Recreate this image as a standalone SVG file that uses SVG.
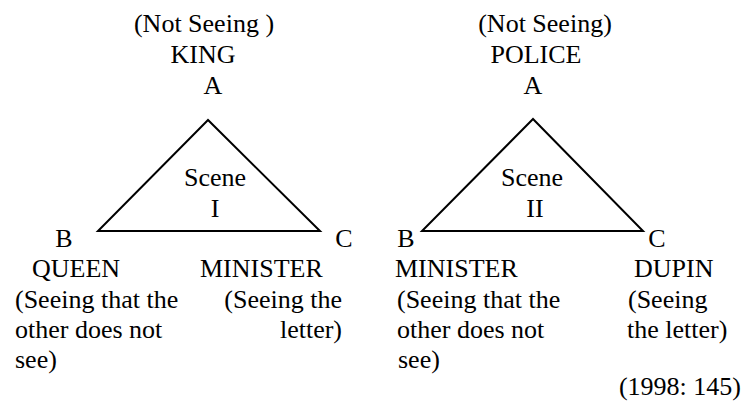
<svg xmlns="http://www.w3.org/2000/svg" width="741" height="405" viewBox="0 0 741 405">
<style>
text{font-family:'Liberation Serif',Tinos,'Times New Roman','DejaVu Serif',serif;font-size:26px;fill:#000}
.m{text-anchor:middle}
.e{text-anchor:end}
.tri{fill:none;stroke:#000;stroke-width:2;stroke-linejoin:miter}
</style>
<rect width="741" height="405" fill="#fff"/>
<g id="connectors">
<polygon class="tri" points="208,120 98,231 320,231"/>
<polygon class="tri" points="533,119 422,231 643,231"/>
</g>
<g id="scene1-A">
<text class="m" x="204" y="32">(Not Seeing )</text>
<text class="m" x="203" y="63">KING</text>
<text class="m" x="213" y="94">A</text>
</g>
<g id="scene1-label">
<text class="m" x="215" y="186">Scene</text>
<text class="m" x="215" y="217">I</text>
</g>
<g id="scene1-B">
<text class="m" x="64" y="247">B</text>
<text x="32" y="277">QUEEN</text>
<text x="15" y="308">(Seeing that the</text>
<text x="15" y="338">other does not</text>
<text x="15" y="368">see)</text>
</g>
<g id="scene1-C">
<text class="m" x="344" y="247">C</text>
<text x="200" y="277">MINISTER</text>
<text class="e" x="342" y="308">(Seeing the</text>
<text class="e" x="342" y="338">letter)</text>
</g>
<g id="scene2-A">
<text class="m" x="545" y="32">(Not Seeing)</text>
<text class="m" x="536" y="63">POLICE</text>
<text class="m" x="533" y="94">A</text>
</g>
<g id="scene2-label">
<text class="m" x="532" y="186">Scene</text>
<text class="m" x="535" y="217">II</text>
</g>
<g id="scene2-B">
<text class="m" x="406" y="247">B</text>
<text x="395" y="277">MINISTER</text>
<text x="397" y="308">(Seeing that the</text>
<text x="397" y="338">other does not</text>
<text x="398" y="368">see)</text>
</g>
<g id="scene2-C">
<text class="m" x="657" y="247">C</text>
<text x="634" y="277">DUPIN</text>
<text x="628" y="308">(Seeing</text>
<text x="627" y="338">the letter)</text>
</g>
<g id="citation">
<text class="e" x="741" y="395">(1998: 145)</text>
</g>
</svg>
